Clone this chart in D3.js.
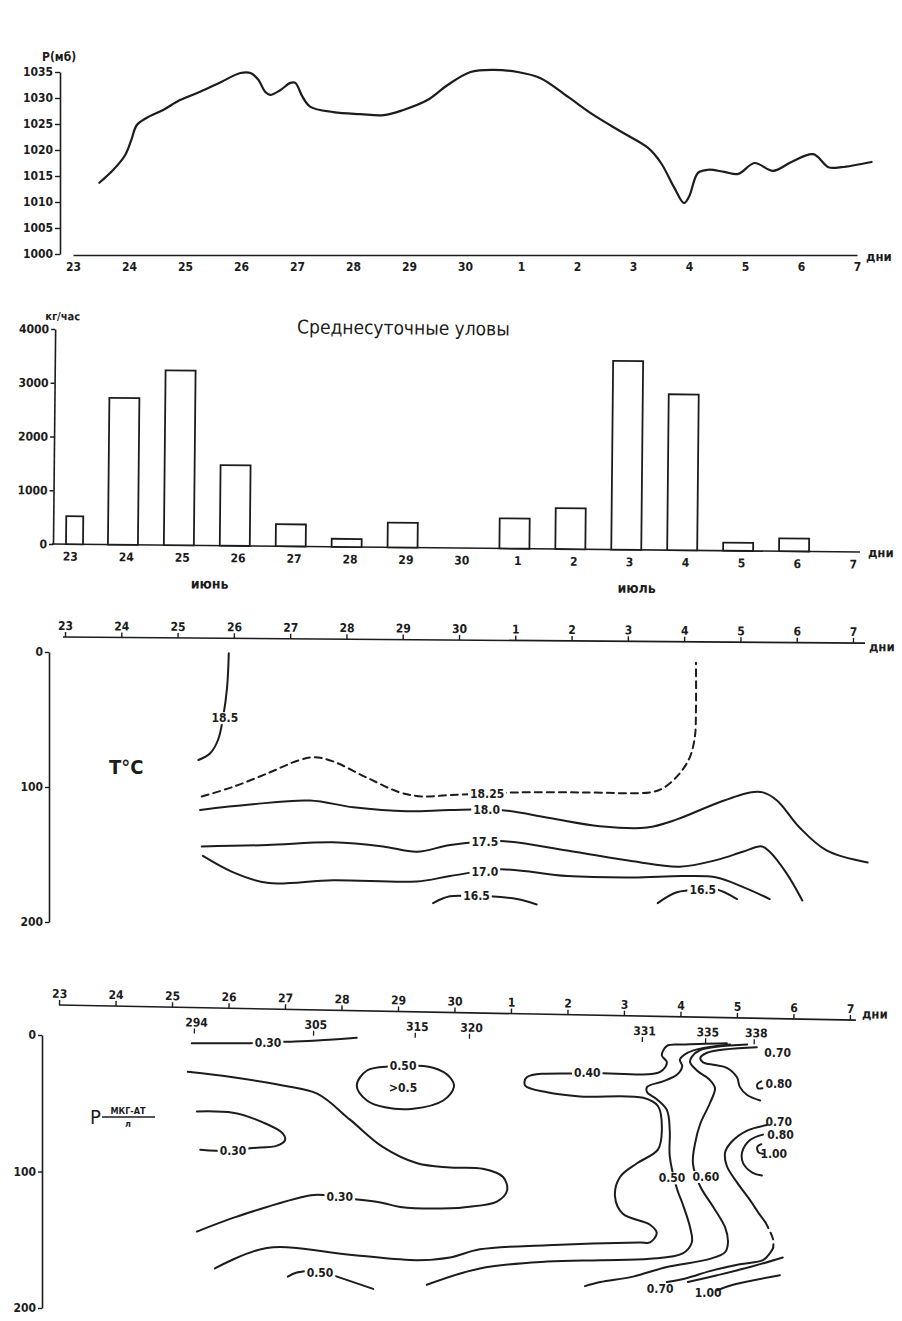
<!DOCTYPE html>
<html><head><meta charset="utf-8">
<script src="https://cdn.jsdelivr.net/npm/d3@7"></script>
<style>
body{margin:0;background:#fff}
svg{display:block;background:#fff}
text{font-family:'DejaVu Sans Condensed','DejaVu Sans',sans-serif;font-stretch:condensed;fill:#1c1c1c}
</style></head><body><svg id="c" width="902" height="1321"></svg>
<script>
// ---------- data ----------
const dayLabels = ["23","24","25","26","27","28","29","30","1","2","3","4","5","6","7"];
const pressureTicks = [1000,1005,1010,1015,1020,1025,1030,1035];
const pressureDay = [0.47,0.72,0.93,1.04,1.14,1.32,1.61,1.91,2.27,2.63,2.99,3.17,3.31,3.43,3.52,3.70,3.88,3.97,4.10,4.24,4.65,5.13,5.55,5.90,6.33,6.69,7.10,7.51,7.94,8.35,8.84,9.30,9.79,10.27,10.50,10.73,10.91,11.00,11.16,11.34,11.63,11.88,12.17,12.50,12.83,13.22,13.49,13.72,14.26];
const pressureMb = [1013.7,1016.2,1019.0,1021.9,1024.8,1026.2,1027.7,1029.6,1031.2,1033.0,1034.8,1034.8,1033.5,1031.2,1030.6,1031.5,1032.9,1032.9,1030.2,1028.3,1027.3,1026.9,1026.7,1027.7,1029.6,1032.5,1035.0,1035.4,1035.0,1033.8,1030.2,1026.7,1023.5,1020.4,1017.5,1012.9,1009.8,1011.0,1015.6,1016.2,1015.8,1015.4,1017.5,1016.0,1017.7,1019.2,1016.7,1016.7,1017.7];

const catchTicks = [0,1000,2000,3000,4000];
const catchValues = [520,2730,3250,1500,410,150,460,0,560,760,3510,2900,150,240]; // кг/час, 23 июня .. 6 июля

const depthTicks = [0,100,200];

// temperature isolines: [day index, depth m]
const tIso185 = [[2.91,1],[2.88,26],[2.81,48],[2.72,65],[2.58,75],[2.37,80]];
const tIso1825 = [[2.43,107],[2.98,100],[3.59,90],[4.17,80],[4.44,78],[4.76,81],[5.36,93],[5.95,104],[6.34,107],[6.84,106],[7.46,105],[8.03,104],[9.2,104],[10.39,104],[10.62,101],[10.92,90],[11.1,78],[11.19,63],[11.21,43],[11.21,8]];
const tIso180 = [[2.40,117],[3.29,113],[4.35,110],[5.12,115],[6.07,118],[6.84,117],[7.73,117],[8.61,123],[9.5,129],[10.34,130],[10.87,124],[11.58,112],[12.17,104],[12.40,104],[12.65,110],[13.05,130],[13.53,147],[14.26,156]];
const tIso175 = [[2.43,144],[3.59,143],[4.76,141],[5.65,144],[6.25,148],[6.84,143],[7.73,140],[8.92,147],[10.09,155],[10.92,159],[11.58,154],[12.04,148],[12.38,144],[12.52,148],[12.82,164],[13.1,184]];
const tIso170 = [[2.45,151],[2.98,163],[3.59,171],[4.76,169],[6.25,170],[6.84,166],[7.73,161],[8.92,166],[10.09,167],[10.98,166],[11.58,167],[12.04,174],[12.52,183]];
const tIso165a = [[6.54,186],[6.84,181],[7.31,181],[7.55,181],[8.03,183],[8.38,187]];
const tIso165b = [[10.53,186],[10.87,178],[11.33,176],[11.58,176],[11.94,183]];
const tLabels = [["18.5",2.84,49],["18.25",7.5,105],["18.0",7.49,117],["17.5",7.46,141],["17.0",7.46,163],["16.5",7.31,181],["16.5",11.33,176]];

// phosphate isolines: [day index, depth m]
const pIso030top = [[2.35,6],[3.38,6],[3.96,5],[4.57,4],[5.27,2]];
const pIso030big = [[2.28,27],[3.08,31],[3.96,37],[4.57,43],[5.15,62],[5.73,82],[6.34,94],[6.92,97],[7.50,98],[7.86,104],[7.93,114],[7.75,122],[7.22,126],[6.92,127],[6.04,126],[5.73,123],[4.97,119],[4.57,117],[4.27,119],[3.68,126],[3.08,134],[2.44,144]];
const pIso030tongue = [[2.44,56],[3.08,57],[3.61,64],[3.96,72],[4.00,77],[3.86,81],[3.38,83],[3.08,85],[2.50,84]];
const pIso050oval = [[5.27,37],[5.45,26],[5.86,23],[6.62,24],[6.92,31],[6.99,38],[6.80,48],[6.27,54],[5.77,53],[5.45,48]];
const pIso040 = [[2.76,171],[3.68,156],[5.15,161],[6.34,165],[6.92,163],[7.45,157],[8.64,154],[10.28,152],[10.46,152],[10.58,145],[10.46,139],[9.98,131],[9.84,118],[9.93,104],[10.23,94],[10.60,84],[10.67,70],[10.60,52],[10.34,46],[9.22,45],[8.64,42],[8.25,37],[8.28,31],[9.35,28],[10.64,27],[10.76,20],[10.67,15],[10.76,8],[11.04,7],[11.82,6]];
const pIso050 = [[11.88,7],[11.35,10],[11.13,13],[10.99,18],[11.03,23],[10.94,29],[10.69,34],[10.41,38],[10.41,42],[10.58,47],[10.76,55],[10.81,70],[10.81,89],[10.94,113],[11.04,124],[11.17,141],[11.20,152],[11.04,160],[10.46,164],[9.58,165],[8.64,166],[7.45,171],[6.51,183]];
const pIso050left = [[4.05,177],[4.21,174],[4.62,173],[4.92,177],[5.56,186]];
const pIso060 = [[12.18,7],[11.35,11],[11.20,16],[11.17,20],[11.29,26],[11.52,33],[11.61,39],[11.52,50],[11.35,65],[11.26,79],[11.22,94],[11.35,111],[11.58,126],[11.79,141],[11.84,152],[11.79,159],[11.52,164],[10.76,170],[10.16,177],[9.58,181],[9.31,184]];
const pIso070top = [[12.35,9],[11.47,13],[11.35,17],[11.40,20],[11.61,22],[11.82,24],[12.00,31],[12.05,38],[12.18,44],[12.41,48]];
const pIso070right = [[12.53,66],[12.18,70],[11.91,78],[11.79,86],[11.82,96],[12.00,108],[12.23,121],[12.41,132],[12.50,137]];
const pIso070gap = [[12.50,137],[12.55,141],[12.64,150],[12.64,156]];
const pIso070bottom = [[12.64,156],[12.58,160],[12.46,165],[12.05,168],[11.52,173],[11.12,178],[10.76,181]];
const pIso080 = [[12.46,73],[12.23,77],[12.09,86],[12.11,94],[12.28,101],[12.44,103]];
const pIso080c = [[12.43,34],[12.36,36],[12.37,39],[12.45,39]];
const pIso100c = [[12.43,80],[12.36,82],[12.38,86],[12.46,87]];
const pIso100a = [[11.13,181],[11.65,176],[12.23,170],[12.81,163]];
const pIso100b = [[11.65,187],[11.93,183],[12.76,176]];
const pLabels = [["0.30",3.70,6,true],["0.30",4.97,119,true],["0.30",3.08,85,true],["0.50",6.09,23,true],["0.40",9.35,28,true],["0.50",10.85,105,true],["0.60",11.45,104,true],["0.50",4.62,174,true],["0.70",12.72,13,false],["0.80",12.74,36,false],["0.70",12.74,64,false],["0.80",12.77,73,false],["1.00",12.65,87,false],["0.70",10.64,186,false],["1.00",11.49,189,false]];
const stationNames = ["294","305","315","320","331","335","338"];
const stationDay = [2.44,4.55,6.35,7.31,10.37,11.49,12.35];

// ---------- drawing ----------
const ink = "#1c1c1c";
const FONT = "'DejaVu Sans Condensed','DejaVu Sans',sans-serif";
const svg = d3.select("#c");
const days = d3.range(dayLabels.length);
const intFmt = d3.format("d");

function styleAxis(g, size) {
  g.selectAll("path.domain").attr("stroke", ink).attr("stroke-width", 1.6);
  g.selectAll(".tick line").attr("stroke", ink).attr("stroke-width", 1.4);
  g.selectAll(".tick text").attr("font-size", size).attr("fill", ink)
    .attr("font-weight", "bold").attr("font-family", FONT);
}
function drawLine(g, x, y, pts, opt = {}) {
  const gen = d3.line().x(p => x(p[0])).y(p => y(p[1]))
    .curve(opt.closed ? d3.curveCatmullRomClosed.alpha(0.5) : d3.curveCatmullRom.alpha(0.5));
  g.append("path").attr("d", gen(pts)).attr("fill", "none").attr("stroke", ink)
    .attr("stroke-width", opt.w || 2).attr("stroke-linecap", "round")
    .attr("stroke-dasharray", opt.dashed ? "7,5" : null);
}
function drawLabel(g, x, y, lab, size) {
  const t = g.append("text").attr("x", x(lab[1])).attr("y", y(lab[2]))
    .attr("text-anchor", "middle").attr("dominant-baseline", "central")
    .attr("font-size", size).attr("font-weight", "bold").text(lab[0]);
  if (lab[3] !== false) {
    const b = t.node().getBBox();
    g.insert("rect", () => t.node()).attr("x", b.x - 2).attr("y", b.y + 1)
      .attr("width", b.width + 4).attr("height", b.height - 2).attr("fill", "#fff");
  }
}

// ===== Panel 1: pressure =====
const x1 = d3.scaleLinear().domain([0, 14]).range([73, 857]);
const y1 = d3.scaleLinear().domain([1000, 1035]).range([254, 72]);
const g1 = svg.append("g");
g1.append("g").attr("transform", "translate(60,0)")
  .call(d3.axisLeft(y1).tickValues(pressureTicks).tickFormat(intFmt).tickSize(5).tickSizeOuter(0).tickPadding(2))
  .call(g => styleAxis(g, 12));
g1.append("g").attr("transform", "translate(0,255)")
  .call(d3.axisBottom(x1).tickValues(days).tickFormat(i => dayLabels[i]).tickSize(0).tickSizeOuter(0).tickPadding(7))
  .call(g => styleAxis(g, 12));
g1.append("text").attr("x", 42).attr("y", 61).attr("font-size", 12).attr("font-weight", "bold").text("P(мб)");
g1.append("text").attr("x", 866).attr("y", 261).attr("font-size", 13).attr("font-weight", "bold").text("дни");
drawLine(g1, x1, y1, pressureDay.map((d, i) => [d, pressureMb[i]]), { w: 2.2 });

// ===== Panel 2: catches =====
const x2 = d3.scaleLinear().domain([0, 14]).range([70, 853]);
const y2 = d3.scaleLinear().domain([0, 4000]).range([544, 329]);
const g2 = svg.append("g").attr("transform", "rotate(0.57,52,544)");
g2.append("g").attr("transform", "translate(53,0)")
  .call(d3.axisLeft(y2).tickValues(catchTicks).tickFormat(intFmt).tickSize(4).tickSizeOuter(0).tickPadding(2))
  .call(g => styleAxis(g, 12));
g2.append("line").attr("x1", 52).attr("x2", 860).attr("y1", 544).attr("y2", 544)
  .attr("stroke", ink).attr("stroke-width", 1.6);
g2.append("g").attr("transform", "translate(0,544)")
  .call(d3.axisBottom(x2).tickValues(days).tickFormat(i => dayLabels[i]).tickSize(0).tickPadding(8))
  .call(g => { g.select(".domain").remove(); styleAxis(g, 12); });
g2.selectAll("rect.bar").data(catchValues.map((v, i) => ({ v, i })).filter(d => d.v > 0))
  .join("rect").attr("class", "bar")
  .attr("x", d => d.i === 0 ? x2(0) - 4 : x2(d.i) - 18)
  .attr("width", d => d.i === 0 ? 17 : 30)
  .attr("y", d => y2(d.v)).attr("height", d => y2(0) - y2(d.v))
  .attr("fill", "#fff").attr("stroke", ink).attr("stroke-width", 1.8);
g2.append("text").attr("x", 43).attr("y", 320).attr("font-size", 11).attr("font-weight", "bold").text("кг/час");
g2.append("text").attr("x", 295).attr("y", 331).attr("font-size", 19).text("Среднесуточные уловы");
g2.append("text").attr("x", 210).attr("y", 587).attr("text-anchor", "middle").attr("font-size", 14).attr("font-weight", "bold").text("июнь");
g2.append("text").attr("x", 637).attr("y", 587).attr("text-anchor", "middle").attr("font-size", 14).attr("font-weight", "bold").text("июль");
g2.append("text").attr("x", 868).attr("y", 549).attr("font-size", 13).attr("font-weight", "bold").text("дни");

// ===== Panel 3: temperature =====
const x3 = d3.scaleLinear().domain([0, 14]).range([65, 853]);
const y3 = d3.scaleLinear().domain([0, 200]).range([652, 922]);
const g3 = svg.append("g");
const g3a = g3.append("g").attr("transform", "rotate(0.44,63,637)");
g3a.append("line").attr("x1", 63).attr("x2", 865).attr("y1", 637).attr("y2", 637).attr("stroke", ink).attr("stroke-width", 1.6);
g3a.append("g").attr("transform", "translate(0,637)")
  .call(d3.axisTop(x3).tickValues(days).tickFormat(i => dayLabels[i]).tickSize(5).tickPadding(2))
  .call(g => { g.select(".domain").remove(); styleAxis(g, 12); });
g3a.append("text").attr("x", 869).attr("y", 645).attr("font-size", 13).attr("font-weight", "bold").text("дни");
g3.append("g").attr("transform", "translate(49,0)")
  .call(d3.axisLeft(y3).tickValues(depthTicks).tickSize(4).tickSizeOuter(0).tickPadding(2))
  .call(g => styleAxis(g, 12));
g3.append("text").attr("x", 109).attr("y", 774).attr("font-size", 20).attr("font-weight", "bold").text("T°C");
drawLine(g3, x3, y3, tIso185);
drawLine(g3, x3, y3, tIso1825, { dashed: true });
[tIso180, tIso175, tIso170, tIso165a, tIso165b].forEach(p => drawLine(g3, x3, y3, p));
tLabels.forEach(l => drawLabel(g3, x3, y3, l, 12));

// ===== Panel 4: phosphate =====
const x4 = d3.scaleLinear().domain([0, 14]).range([59, 850]);
const y4 = d3.scaleLinear().domain([0, 200]).range([1035, 1308]);
const g4 = svg.append("g");
const g4a = g4.append("g").attr("transform", "rotate(1.09,59,1005)");
g4a.append("line").attr("x1", 59).attr("x2", 856).attr("y1", 1005).attr("y2", 1005).attr("stroke", ink).attr("stroke-width", 1.6);
g4a.append("g").attr("transform", "translate(0,1005)")
  .call(d3.axisTop(x4).tickValues(days).tickFormat(i => dayLabels[i]).tickSize(5).tickPadding(2))
  .call(g => { g.select(".domain").remove(); styleAxis(g, 12); });
g4a.append("text").attr("x", 862).attr("y", 1003).attr("font-size", 13).attr("font-weight", "bold").text("дни");
const st = g4a.selectAll("g.st").data(stationNames).join("g").attr("class", "st")
  .attr("transform", (d, i) => `translate(${x4(stationDay[i])},1005)`);
st.append("text").attr("y", 19).attr("text-anchor", "middle").attr("font-size", 12).attr("font-weight", "bold").text(d => d);
st.append("line").attr("x1", -2).attr("x2", -2).attr("y1", 21).attr("y2", 26).attr("stroke", ink).attr("stroke-width", 1.3);
g4.append("g").attr("transform", "translate(42,0)")
  .call(d3.axisLeft(y4).tickValues(depthTicks).tickSize(4).tickSizeOuter(0).tickPadding(2))
  .call(g => styleAxis(g, 12));
g4.append("text").attr("x", 90).attr("y", 1124).attr("font-size", 20).text("P");
g4.append("text").attr("x", 128).attr("y", 1114).attr("text-anchor", "middle").attr("font-size", 9).attr("font-weight", "bold").text("МКГ-АТ");
g4.append("line").attr("x1", 102).attr("x2", 155).attr("y1", 1117).attr("y2", 1117).attr("stroke", ink).attr("stroke-width", 1.4);
g4.append("text").attr("x", 128).attr("y", 1127).attr("text-anchor", "middle").attr("font-size", 9).attr("font-weight", "bold").text("л");
[pIso030top, pIso030big, pIso030tongue, pIso040, pIso050, pIso050left, pIso060, pIso070top,
 pIso070right, pIso070bottom, pIso080, pIso080c, pIso100c, pIso100a, pIso100b].forEach(p => drawLine(g4, x4, y4, p));
drawLine(g4, x4, y4, pIso070gap, { dashed: true });
drawLine(g4, x4, y4, pIso050oval, { closed: true });
g4.append("text").attr("x", x4(6.09)).attr("y", y4(39)).attr("text-anchor", "middle")
  .attr("dominant-baseline", "central").attr("font-size", 12).attr("font-weight", "bold").text(">0.5");
pLabels.forEach(l => drawLabel(g4, x4, y4, l, 12));
</script></body></html>
